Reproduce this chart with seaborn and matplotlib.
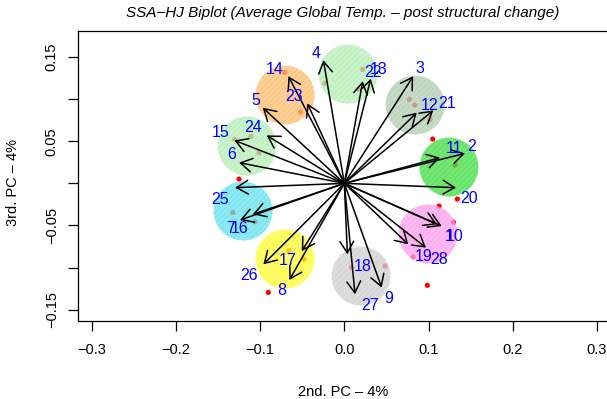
import matplotlib
matplotlib.use("Agg")
import matplotlib.pyplot as plt
from matplotlib.patches import Circle
import numpy as np
import pandas as pd
import seaborn as sns

# variable loadings (arrow tips), 28 variables
var_names = [str(i) for i in range(1, 29)]
var_x = [0.1157, 0.1434, 0.0819, -0.0249, -0.0969, -0.1251, -0.1239, -0.0653,
         0.0444, 0.1101, 0.1137, 0.0860, 0.0314, -0.0665, -0.1306, -0.1088,
         -0.0506, 0.0036, 0.0760, 0.1327, 0.1057, 0.0219, -0.0439, -0.0922,
         -0.1298, -0.0962, 0.0127, 0.0970]
var_y = [-0.0507, 0.0356, 0.1274, 0.1464, 0.0899, 0.0246, -0.0436, -0.1148,
         -0.1239, -0.0487, 0.0305, 0.0840, 0.1243, 0.1274, 0.0511, -0.0368,
         -0.0804, -0.0843, -0.0724, -0.0051, 0.0867, 0.1215, 0.0950, 0.0570,
         -0.0051, -0.0962, -0.1318, -0.0764]

# where the labels sit
lab_x = [0.1249, 0.1513, 0.0899, -0.0336, -0.1052, -0.1337, -0.1357, -0.0743,
         0.0531, 0.1315, 0.1303, 0.1018, 0.0410, -0.0823, -0.1468, -0.1247,
         -0.0677, 0.0219, 0.0938, 0.1485, 0.1216, 0.0344, -0.0597, -0.1088,
         -0.1476, -0.1128, 0.0305, 0.1128]
lab_y = [-0.0626, 0.0443, 0.1366, 0.1544, 0.0989, 0.0344, -0.0534, -0.1267,
         -0.1366, -0.0626, 0.0416, 0.0930, 0.1349, 0.1354, 0.0601, -0.0534,
         -0.0911, -0.0982, -0.0863, -0.0178, 0.0950, 0.1318, 0.1037, 0.0665,
         -0.0190, -0.1089, -0.1445, -0.0899]

# row scores (red points)
row_x = [-0.0708, -0.0518, 0.0219, -0.0233, 0.0163, -0.1302, -0.1108, -0.1013,
         -0.1251, 0.0772, 0.0836, 0.1018, 0.1050, 0.1315, 0.1342, -0.1325,
         -0.1061, -0.0657, -0.0479, -0.0903, 0.1125, 0.1295, 0.0819, 0.0088,
         0.0483, 0.0986]
row_y = [0.1318, 0.0847, 0.1354, 0.1188, 0.1116, 0.0523, 0.0558, 0.0363,
         0.0051, 0.0998, 0.0930, 0.0760, 0.0526, 0.0217, -0.0186, -0.0344,
         -0.0456, -0.0800, -0.0903, -0.1295, -0.0270, -0.0463, -0.0872, -0.0998,
         -0.0982, -0.1211]

# cluster circles
clu_x = [-0.0704, 0.0044, -0.1156, 0.0840, 0.1243, -0.1203, -0.0704, 0.0198, 0.0994]
clu_y = [0.1049, 0.1298, 0.0443, 0.0930, 0.0194, -0.0329, -0.0899, -0.1101, -0.0602]
clu_col = ["#ffc070", "#b8f0b8", "#b8f0b8", "#b4d0b4", "#44e044",
           "#66e4f0", "#ffff33", "#d2d2d2", "#ffa0f0"]
radius = 0.035

sns.set_theme(style="ticks")
plt.rcParams["font.family"] = ["Liberation Sans", "DejaVu Sans"]
plt.rcParams["hatch.linewidth"] = 0.5
plt.rcParams["axes.unicode_minus"] = True

fig = plt.figure(figsize=(6.07, 3.99), dpi=100)
ax = fig.add_axes([0.129, 0.1955, 0.871, 0.7268])

pts = pd.DataFrame({"x": row_x, "y": row_y})
sns.scatterplot(data=pts, x="x", y="y", color="red", s=14, edgecolor="none",
                ax=ax, zorder=1)

for cx, cy, c in zip(clu_x, clu_y, clu_col):
    rgb = np.array(matplotlib.colors.to_rgb(c))
    ax.add_patch(Circle((cx, cy), radius, facecolor=(*rgb, 0.75),
                        edgecolor=(*(rgb * 0.9), 0.4), hatch="//////",
                        lw=0, zorder=2))

for vx, vy in zip(var_x, var_y):
    ax.annotate("", xy=(vx, vy), xytext=(0, 0),
                arrowprops=dict(arrowstyle="->,head_length=0.55,head_width=0.33",
                                color="black", lw=1.1, shrinkA=0, shrinkB=0,
                                mutation_scale=15),
                zorder=3)

for name, lx, ly in zip(var_names, lab_x, lab_y):
    ax.text(lx, ly, name, color="blue", fontsize=11.5, ha="center", va="center",
            zorder=4)

ax.set_xlim(-0.316, 0.312)
ax.set_ylim(-0.1635, 0.181)
ax.set_xticks([-0.3, -0.2, -0.1, 0.0, 0.1, 0.2, 0.3])
ax.set_xticklabels(["\u22120.3", "\u22120.2", "\u22120.1", "0.0", "0.1", "0.2", "0.3"])
ax.set_yticks([-0.15, -0.10, -0.05, 0.0, 0.05, 0.10, 0.15])
ax.set_yticklabels(["\u22120.15", "", "\u22120.05", "", "0.05", "", "0.15"],
                   rotation=90, va="center")
ax.tick_params(axis="both", direction="out", length=7, width=0.9,
               color="black", labelsize=10.5, labelcolor="black")
ax.tick_params(axis="x", pad=9)
ax.tick_params(axis="y", pad=7)
for side in ["left", "bottom", "top"]:
    ax.spines[side].set_visible(True)
    ax.spines[side].set_color("black")
    ax.spines[side].set_linewidth(0.9)
ax.spines["right"].set_visible(False)

ax.set_xlabel("2nd. PC \u2013 4%", fontsize=10.5, color="black")
ax.set_ylabel("3rd. PC \u2013 4%", fontsize=10.5, color="black")
ax.xaxis.set_label_coords(0.5007, -0.221)
ax.yaxis.set_label_coords(-0.110, 0.476)

fig.text(343 / 607, 1 - 13 / 399,
         "SSA\u2212HJ Biplot (Average Global Temp. \u2013 post structural change)",
         fontsize=11, style="italic", ha="center", va="center", color="black")

fig.savefig("out.png", dpi=100)
